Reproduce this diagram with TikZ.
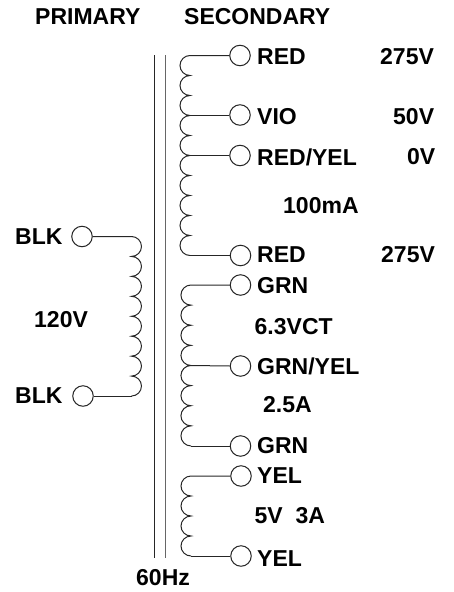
\documentclass[tikz,border=0pt]{standalone}
\usepackage{fontspec}
\setmainfont{Liberation Sans}
\tikzset{
  wire/.style={line width=1pt,black!85},
  terminal/.style={circle,draw=black!85,line width=1pt,minimum size=20.5pt,inner sep=0pt,fill=white},
  lab/.style={anchor=west,inner sep=0pt,font=\fontsize{23}{23}\selectfont\bfseries,text=black}
}
\begin{document}
\begin{tikzpicture}[x=1pt,y=-1pt]
\useasboundingbox (0,0) rectangle (454,592);
% core
\coordinate (c1t) at (154,55); \coordinate (c1b) at (154,558);
\coordinate (c2t) at (165,55); \coordinate (c2b) at (165,558);
\draw[wire] (c1t) -- (c1b);
\draw[wire,black!60] (c2t) -- (c2b);
% terminals
\foreach \n/\x/\y in {s1/240/55.5,s2/240/115,s3/240/155.5,s4/240.5/255.5,
  s5/240.5/285,s6/240.5/366,s7/240.5/446,s8/241/476,s9/241/556,p1/82/236.5,p2/83/396}
  \node[terminal] (\n) at (\x,\y) {};
% coil 1
\coordinate (a1) at (190,55.5);
\coordinate (a2) at (190,115);
\coordinate (a3) at (190,155.5);
\coordinate (a4) at (190,255.5);
\draw[wire] (s1.west) -- (a1)
  \foreach \i in {1,...,10}{ arc[start angle=-90,end angle=-270,radius=10] };
\draw[wire] (a2) -- (s2.west);
\draw[wire] (a3) -- (s3.west);
\draw[wire] (a4) -- (s4.west);
% coil 2
\coordinate (a5) at (191,285);
\coordinate (a6) at (191,365.5);
\coordinate (a7) at (191,446);
\draw[wire] (s5.west) -- (a5)
  \foreach \i in {1,...,8}{ arc[start angle=-90,end angle=-270,radius=10.06] };
\draw[wire] (a6) -- (s6.west);
\draw[wire] (a7) -- (s7.west);
% coil 3
\coordinate (a8) at (191,476);
\coordinate (a9) at (191,556);
\draw[wire] (s8.west) -- (a8)
  \foreach \i in {1,...,4}{ arc[start angle=-90,end angle=-270,radius=10] };
\draw[wire] (a9) -- (s9.west);
% primary
\coordinate (b1) at (131.5,236.5);
\coordinate (b2) at (131.5,396);
\draw[wire] (p1.east) -- (b1)
  \foreach \i in {1,...,8}{ arc[start angle=-90,end angle=90,radius=9.97] };
\draw[wire] (b2) -- (p2.east);
% labels
\foreach \n/\x/\y/\t in {
  l1/35/16.5/PRIMARY, l2/184/16.5/SECONDARY,
  l3/257/56.5/RED, l4/380/56.5/275V,
  l5/257/116.5/VIO, l6/393/116.5/50V,
  l7/257/157/RED\slash YEL, l8/407/157/0V,
  l9/283/205.5/100mA,
  l10/257/255/RED, l11/381/255/275V,
  l12/257/286/GRN, l13/254.5/326.5/6.3VCT,
  l14/257/366/GRN\slash YEL, l15/263/405/2.5A,
  l16/257/446/GRN, l17/257/476/YEL,
  l18/254.5/516/5V\ \ 3A, l19/257/558.5/YEL,
  l20/136/578/60Hz, l21/15/236.5/BLK, l22/34/320/120V, l23/15/396/BLK}
  \node[lab] (\n) at (\x,\y) {\t};
\end{tikzpicture}
\end{document}
